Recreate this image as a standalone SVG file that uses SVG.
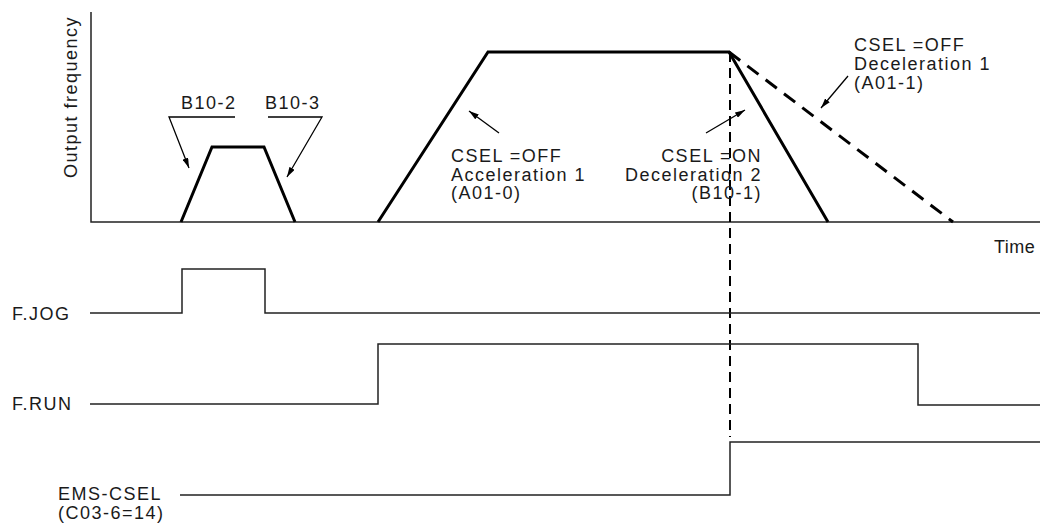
<svg xmlns="http://www.w3.org/2000/svg" width="1040" height="526" viewBox="0 0 1040 526">
<style>
text{font-family:"Liberation Sans",Arial,sans-serif;font-size:18px;fill:#1a1a1a;letter-spacing:1.5px}
.axis{stroke:#222;stroke-width:1.5;fill:none}
.curve{stroke:#000;stroke-width:3;fill:none;stroke-linejoin:miter}
.dash{stroke:#000;stroke-width:3;fill:none;stroke-dasharray:14 9}
.vdash{stroke:#000;stroke-width:2;fill:none;stroke-dasharray:10 6}
.sig{stroke:#222;stroke-width:1.5;fill:none}
.lead{stroke:#000;stroke-width:1.3;fill:none}
</style>
<defs>
<marker id="ah" viewBox="0 0 10 6" refX="10" refY="3" markerWidth="10" markerHeight="6" markerUnits="userSpaceOnUse" orient="auto">
<path d="M0,0 L10,3 L0,6 Z" fill="#000"/>
</marker>
</defs>
<g id="axes">
<polyline class="axis" points="91,12 91,222 1040,222"/>
<text x="77" y="97" text-anchor="middle" transform="rotate(-90 77 97)">Output frequency</text>
<text x="994" y="253" style="letter-spacing:0.5px">Time</text>
</g>
<g id="jog-curve">
<polyline class="curve" points="181,222 212,147 264,147 295,222"/>
</g>
<g id="run-curve">
<polyline class="curve" points="378,222 488,52 729,52 828,222"/>
<line class="dash" x1="729" y1="52" x2="953" y2="222"/>
</g>
<g id="connectors">
<line class="vdash" x1="730" y1="52" x2="730" y2="437"/>
<polyline class="lead" points="235,117 169,117 189,168" marker-end="url(#ah)"/>
<polyline class="lead" points="268,117 322,117 287,177" marker-end="url(#ah)"/>
<line class="lead" x1="499" y1="133" x2="469" y2="111" marker-end="url(#ah)"/>
<line class="lead" x1="706" y1="133" x2="745" y2="110" marker-end="url(#ah)"/>
<line class="lead" x1="848" y1="76" x2="821" y2="108" marker-end="url(#ah)"/>
</g>
<g id="label-b10-2"><text x="181" y="109">B10-2</text></g>
<g id="label-b10-3"><text x="265" y="109">B10-3</text></g>
<g id="label-acc1">
<text x="451" y="162">CSEL =OFF</text>
<text x="451" y="181">Acceleration 1</text>
<text x="451" y="199">(A01-0)</text>
</g>
<g id="label-dec2">
<text x="762" y="162" text-anchor="end">CSEL =ON</text>
<text x="762" y="181" text-anchor="end">Deceleration 2</text>
<text x="762" y="199" text-anchor="end">(B10-1)</text>
</g>
<g id="label-dec1">
<text x="854" y="51">CSEL =OFF</text>
<text x="854" y="70">Deceleration 1</text>
<text x="854" y="89">(A01-1)</text>
</g>
<g id="sig-fjog">
<text x="12" y="320">F.JOG</text>
<polyline class="sig" points="90,313 182,313 182,269 265,269 265,313 1040,313"/>
</g>
<g id="sig-frun">
<text x="12" y="410">F.RUN</text>
<polyline class="sig" points="90,404 378,404 378,344 918,344 918,405 1040,405"/>
</g>
<g id="sig-emscsel">
<text x="58" y="500">EMS-CSEL</text>
<text x="58" y="519">(C03-6=14)</text>
<polyline class="sig" points="180,495 730,495 730,442 1040,442"/>
</g>
</svg>
